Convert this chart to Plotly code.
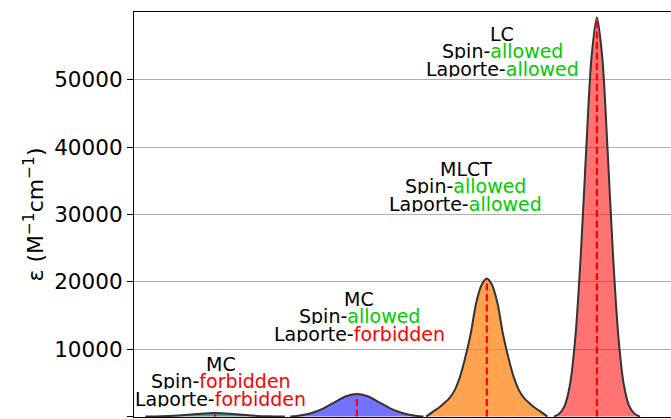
import plotly.graph_objects as go

# Absorption bands (arbitrary energy axis, hidden) and molar absorptivity values
mc_sf_x = [2.1, 5.1, 8.1, 11.1, 13.1, 15.1, 17.1, 19.1, 22.1, 25.1, 28.1]
mc_sf_y = [0, 40, 150, 340, 450, 520, 450, 340, 150, 40, 0]

mc_sa_x = [29.1, 31.5, 33.5, 35.5, 37.5, 39.5, 41.5, 43.5, 45.5, 47.5, 49.5, 51.5, 53.9]
mc_sa_y = [0, 240, 640, 1300, 2200, 3020, 3350, 3020, 2200, 1300, 640, 240, 0]

mlct_x = [54.4, 55.7, 56.7, 57.7, 58.7, 59.7, 60.7, 61.7, 62.7, 63.7, 64.7, 65.7,
          66.7, 67.7, 68.7, 69.7, 70.7, 71.7, 72.7, 73.7, 74.7, 75.7, 77.0]
mlct_y = [0, 740, 1270, 1950, 2700, 3900, 5900, 8800, 12300, 16800, 19500, 20500,
          19500, 16800, 12300, 8800, 5900, 3900, 2700, 1950, 1270, 740, 0]

lc_x = [78.2, 79.2, 80.2, 81.2, 82.2, 83.2, 84.2, 85.2, 86.2,
        87.2, 88.2, 89.2, 90.2, 91.2, 92.2, 93.2, 94.2]
lc_y = [0, 440, 1600, 4800, 11900, 24000, 39500, 53400, 59300,
        53400, 39500, 24000, 11900, 4800, 1600, 440, 0]

band_x = [mc_sf_x, mc_sa_x, mlct_x, lc_x]
band_y = [mc_sf_y, mc_sa_y, mlct_y, lc_y]
band_fill = ["rgba(0,128,128,0.75)", "rgba(0,0,255,0.55)",
             "rgba(255,127,14,0.72)", "rgba(255,0,0,0.55)"]

# Text blocks: transition type, spin rule, Laporte rule
band_names = ["MC", "MC", "MLCT", "LC"]
spin_rule = ["forbidden", "allowed", "allowed", "allowed"]
laporte_rule = ["forbidden", "forbidden", "allowed", "allowed"]
label_x = [16.2, 41.9, 61.8, 68.6]
label_top = [7950, 17600, 36900, 56950]
line_step = 2600

y_ticks = [0, 10000, 20000, 30000, 40000, 50000]

RULE_COLOR = {"allowed": "#00cc00", "forbidden": "#ff0000"}
FONT = "DejaVu Sans"

fig = go.Figure()

for xs, ys, fc in zip(band_x, band_y, band_fill):
    fig.add_trace(go.Scatter(
        x=xs, y=ys, mode="lines", fill="tozeroy", fillcolor=fc,
        line=dict(color="#333333", width=2, shape="spline", smoothing=0.8),
        hoverinfo="skip", showlegend=False,
    ))

# Dashed markers at each band maximum
for xs, ys in zip(band_x, band_y):
    i = ys.index(max(ys))
    fig.add_trace(go.Scatter(
        x=[xs[i], xs[i]], y=[0, ys[i]], mode="lines",
        line=dict(color="#ff0000", width=2.2, dash="7px,3.5px"),
        hoverinfo="skip", showlegend=False,
    ))

annotations = []
for name, spin, lap, lx, ly in zip(band_names, spin_rule, laporte_rule, label_x, label_top):
    lines = [
        name,
        f"Spin-<span style='color:{RULE_COLOR[spin]}'>{spin}</span>",
        f"Laporte-<span style='color:{RULE_COLOR[lap]}'>{lap}</span>",
    ]
    for k, txt in enumerate(lines):
        annotations.append(dict(
            x=lx, y=ly - k * line_step, xref="x", yref="y", text=txt,
            showarrow=False, xanchor="center", yanchor="middle",
            height=17, borderpad=0,
            font=dict(family=FONT, size=19, color="black"),
        ))

fig.update_layout(
    width=671, height=419,
    margin=dict(l=134, r=0, t=12, b=2),
    plot_bgcolor="white", paper_bgcolor="white",
    annotations=annotations,
    font=dict(family=FONT, color="black"),
)
fig.update_xaxes(
    range=[0, 100], showticklabels=False, ticks="", showgrid=False,
    zeroline=False, showline=True, mirror=True, linecolor="black", linewidth=1.2,
)
fig.update_yaxes(
    range=[-60, 60090], tickvals=y_ticks, ticktext=[str(v) for v in y_ticks],
    ticks="outside", ticklen=6, tickwidth=1.2, tickcolor="black",
    tickfont=dict(family=FONT, size=21.5, color="black"),
    showgrid=True, gridcolor="#b0b0b0", gridwidth=1, zeroline=False,
    showline=True, linecolor="black", linewidth=1.2,
    title=dict(text="ε (M<sup>−1</sup>cm<sup>−1</sup>)",
               font=dict(family=FONT, size=22, color="black"), standoff=4),
)

fig.write_html("out.html")
